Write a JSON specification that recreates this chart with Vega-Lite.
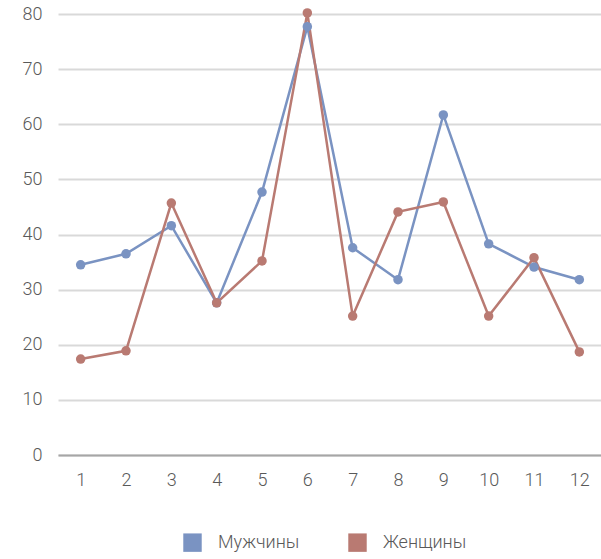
{
  "$schema": "https://vega.github.io/schema/vega-lite/v6.json",
  "width": 544,
  "height": 441,
  "padding": {"left": 58, "top": 14, "right": 0, "bottom": 104},
  "autosize": {"type": "none"},
  "config": {
    "view": {"stroke": null},
    "font": "Roboto",
    "axis": {"labelFont": "Roboto", "labelFontWeight": 300, "labelFontSize": 18, "labelColor": "#595959"},
    "legend": {"labelFont": "Roboto", "labelFontWeight": 300, "labelFontSize": 18, "labelColor": "#595959"}
  },
  "data": {
    "values": [
      {"x": 1, "s": "Мужчины", "v": 34.5},
      {"x": 2, "s": "Мужчины", "v": 36.5},
      {"x": 3, "s": "Мужчины", "v": 41.6},
      {"x": 4, "s": "Мужчины", "v": 27.6},
      {"x": 5, "s": "Мужчины", "v": 47.7},
      {"x": 6, "s": "Мужчины", "v": 77.7},
      {"x": 7, "s": "Мужчины", "v": 37.6},
      {"x": 8, "s": "Мужчины", "v": 31.8},
      {"x": 9, "s": "Мужчины", "v": 61.7},
      {"x": 10, "s": "Мужчины", "v": 38.3},
      {"x": 11, "s": "Мужчины", "v": 34.1},
      {"x": 12, "s": "Мужчины", "v": 31.8},
      {"x": 1, "s": "Женщины", "v": 17.4},
      {"x": 2, "s": "Женщины", "v": 18.9},
      {"x": 3, "s": "Женщины", "v": 45.7},
      {"x": 4, "s": "Женщины", "v": 27.6},
      {"x": 5, "s": "Женщины", "v": 35.2},
      {"x": 6, "s": "Женщины", "v": 80.2},
      {"x": 7, "s": "Женщины", "v": 25.2},
      {"x": 8, "s": "Женщины", "v": 44.1},
      {"x": 9, "s": "Женщины", "v": 45.9},
      {"x": 10, "s": "Женщины", "v": 25.2},
      {"x": 11, "s": "Женщины", "v": 35.8},
      {"x": 12, "s": "Женщины", "v": 18.7}
    ]
  },
  "encoding": {
    "x": {
      "field": "x", "type": "ordinal", "title": null,
      "scale": {"type": "point", "padding": 0.5},
      "axis": {"labelAngle": 0, "domainColor": "#a6a6a6", "domainWidth": 2, "ticks": false, "labelPadding": 16, "grid": false}
    },
    "y": {
      "field": "v", "type": "quantitative", "title": null,
      "scale": {"domain": [0, 80], "nice": false},
      "axis": {"values": [0,10,20,30,40,50,60,70,80], "domain": false, "ticks": false, "labelPadding": 16, "gridColor": "#d9d9d9", "gridWidth": 2}
    },
    "color": {
      "field": "s", "type": "nominal", "title": null,
      "scale": {"domain": ["Мужчины", "Женщины"], "range": ["#7a93c2", "#b97a72"]},
      "legend": {"orient": "none", "legendX": 125, "legendY": 519, "direction": "horizontal", "symbolType": "square", "symbolSize": 340, "symbolOpacity": 1, "symbolStrokeWidth": 0, "columnPadding": 48, "labelOffset": 16}
    }
  },
  "layer": [
    {"mark": {"type": "line", "strokeWidth": 2.5}},
    {"mark": {"type": "circle", "size": 90, "opacity": 1}}
  ]
}
